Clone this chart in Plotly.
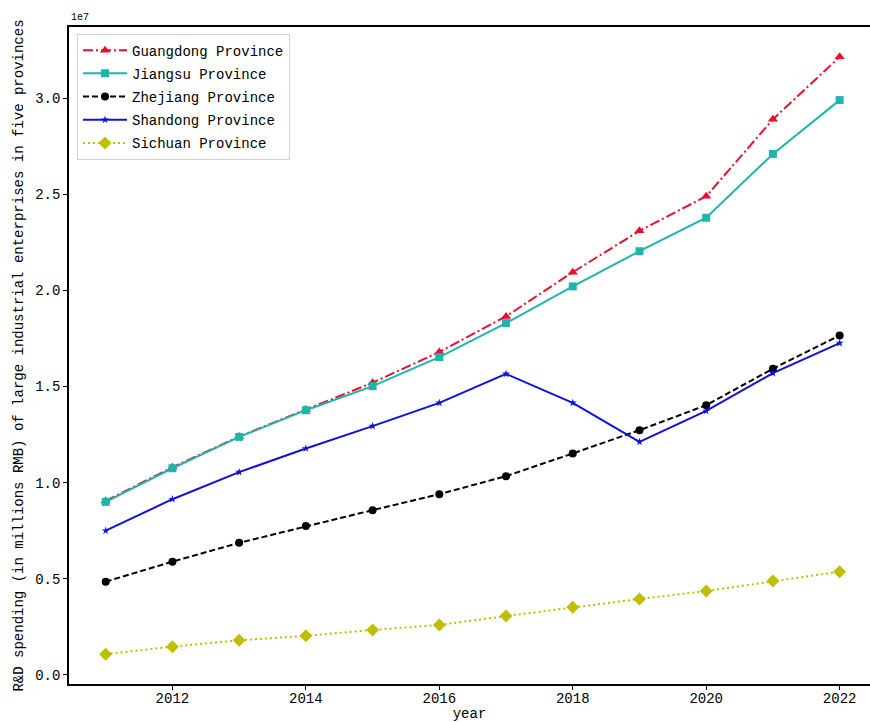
import plotly.graph_objects as go

# Years and R&D spending (RMB) of large industrial enterprises
years = list(range(2011, 2023))

guangdong = [0.905e7, 1.080e7, 1.240e7, 1.380e7, 1.520e7, 1.680e7, 1.865e7, 2.095e7, 2.310e7, 2.490e7, 2.890e7, 3.215e7]
jiangsu = [0.900e7, 1.075e7, 1.238e7, 1.377e7, 1.502e7, 1.653e7, 1.830e7, 2.021e7, 2.204e7, 2.378e7, 2.710e7, 2.990e7]
zhejiang = [0.485e7, 0.589e7, 0.687e7, 0.774e7, 0.857e7, 0.940e7, 1.034e7, 1.152e7, 1.273e7, 1.403e7, 1.593e7, 1.766e7]
shandong = [0.750e7, 0.914e7, 1.055e7, 1.178e7, 1.294e7, 1.415e7, 1.566e7, 1.415e7, 1.212e7, 1.373e7, 1.570e7, 1.726e7]
sichuan = [0.108e7, 0.147e7, 0.180e7, 0.203e7, 0.234e7, 0.260e7, 0.306e7, 0.352e7, 0.395e7, 0.436e7, 0.488e7, 0.537e7]

y_ticks = [0.0, 0.5e7, 1.0e7, 1.5e7, 2.0e7, 2.5e7, 3.0e7]
x_ticks = [2012, 2014, 2016, 2018, 2020, 2022]

FONT = "Liberation Mono"

series = [
    ("Guangdong Province", guangdong, "#e8102a", "10px,3px,2px,3px", "triangle-up", 9),
    ("Jiangsu Province", jiangsu, "#1fb5ad", "solid", "square", 8),
    ("Zhejiang Province", zhejiang, "#000000", "6px,3px", "circle", 8),
    ("Shandong Province", shandong, "#1010e0", "solid", "star", 6),
    ("Sichuan Province", sichuan, "#bfbf00", "2px,3px", "diamond", 10),
]

fig = go.Figure()
for i, (name, vals, color, dash, symbol, size) in enumerate(series):
    fig.add_trace(go.Scatter(
        x=years, y=vals, name=name, mode="lines+markers",
        line=dict(color=color, width=2, dash=dash),
        marker=dict(symbol=symbol, size=size, color=color),
        legendgroup=f"g{i}",
    ))

# axis ranges with a 5% pad around the data, x clipped at the right edge
all_vals = guangdong + jiangsu + zhejiang + shandong + sichuan
lo, hi = min(all_vals), max(all_vals)
pad = 0.05 * (hi - lo)

fig.update_layout(
    width=870, height=722,
    margin=dict(l=69, r=0, t=27, b=38),
    paper_bgcolor="white", plot_bgcolor="white",
    font=dict(family=FONT, size=14, color="black"),
    showlegend=True,
    legend=dict(
        x=0.01, y=0.99, xanchor="left", yanchor="top",
        bgcolor="rgba(255,255,255,0.8)", bordercolor="#d0d0d0", borderwidth=1,
        font=dict(family=FONT, size=14), tracegroupgap=2, itemwidth=44,
    ),
    xaxis=dict(
        range=[2010.45, 2022.455], tickvals=x_ticks, ticktext=[str(t) for t in x_ticks],
        showgrid=False, zeroline=False, showline=True, linecolor="black", linewidth=1.5,
        mirror=True, ticks="outside", ticklen=4, tickcolor="black",
        ticklabelstandoff=-4,
        title=dict(text="year", standoff=7, font=dict(family=FONT, size=14)),
        tickfont=dict(family=FONT, size=14),
    ),
    yaxis=dict(
        range=[lo - pad, hi + pad], tickvals=y_ticks,
        ticktext=[f"{t / 1e7:.1f}" for t in y_ticks],
        showgrid=False, zeroline=False, showline=True, linecolor="black", linewidth=1.5,
        ticks="outside", ticklen=4, tickcolor="black",
        title=dict(text="R&D spending (in millions RMB) of large industrial enterprises in five provinces",
                   standoff=8, font=dict(family=FONT, size=14)),
        tickfont=dict(family=FONT, size=14),
    ),
    annotations=[dict(
        text="1e7", xref="paper", yref="paper", x=0, y=1, xanchor="left", yanchor="bottom",
        showarrow=False, font=dict(family=FONT, size=10), xshift=0, yshift=2,
    )],
)

fig.write_html("out.html")
